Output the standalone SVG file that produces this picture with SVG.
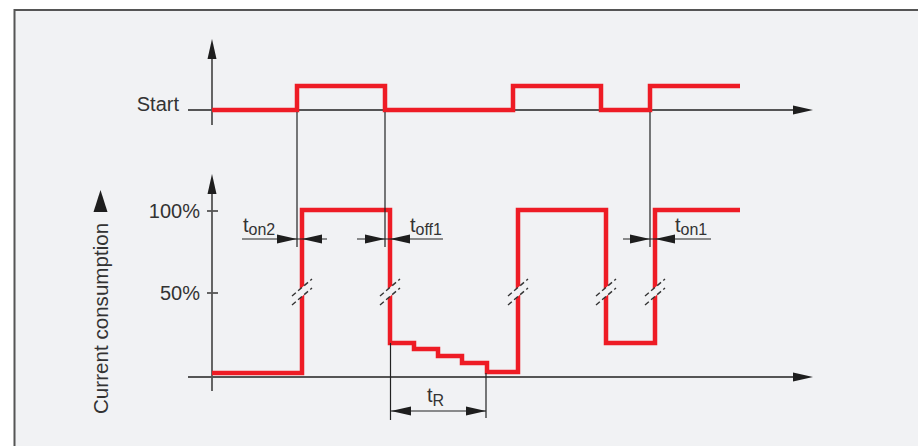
<svg xmlns="http://www.w3.org/2000/svg" xmlns:xlink="http://www.w3.org/1999/xlink" width="918" height="446" viewBox="0 0 918 446">
<style>
text{font-family:"Liberation Sans",Arial,sans-serif;fill:#333}
.ax{stroke:#555;stroke-width:1.8;fill:none}
.ref{stroke:#222;stroke-width:1.2;fill:none}
.sig{stroke:#ee1c25;stroke-width:4.5;fill:none;stroke-linejoin:miter;stroke-linecap:butt}
.ah{fill:#1e1e1e}
.brk{stroke:#333;stroke-width:1.4;stroke-dasharray:5 3}
.gap{fill:#f1f2f4}
.big{font-size:20px}
.t{font-size:20px}
.sub{font-size:16px}
</style>
<defs>
<path id="ahR" d="M0,0 L-20,-4.5 L-20,4.5 Z"/>
<path id="ahL" d="M0,0 L20,-4.5 L20,4.5 Z"/>
<path id="ahU" d="M0,0 L-4.5,20 L4.5,20 Z"/>
<g id="brkmark">
<polygon class="gap" points="-4.5,-0.4 4.5,-8.4 4.5,0.4 -4.5,8.4"/>
<line class="brk" x1="-10" y1="4" x2="10" y2="-13"/>
<line class="brk" x1="-10" y1="13" x2="10" y2="-4"/>
</g>
</defs>
<rect x="0" y="0" width="918" height="446" fill="#ffffff"/>
<rect id="frame" x="14.5" y="10" width="912" height="450" fill="#f1f2f4" stroke="#555" stroke-width="2"/>

<g id="axes">
<line class="ax" x1="212" y1="125" x2="212" y2="55"/>
<line class="ax" x1="188" y1="110" x2="797" y2="110"/>
<use href="#ahU" class="ah" x="212" y="39"/>
<use href="#ahR" class="ah" x="813" y="110"/>
<line class="ax" x1="212" y1="391" x2="212" y2="190"/>
<line class="ax" x1="188" y1="377" x2="797" y2="377"/>
<use href="#ahU" class="ah" x="212" y="174"/>
<use href="#ahR" class="ah" x="813" y="377"/>
<line class="ax" x1="207" y1="211" x2="218" y2="211"/>
<line class="ax" x1="207" y1="293" x2="218" y2="293"/>
</g>

<g id="labels">
<text class="big" x="179" y="111" text-anchor="end">Start</text>
<text class="big" x="200" y="218" text-anchor="end">100%</text>
<text class="big" x="200" y="300" text-anchor="end">50%</text>
<text class="big" transform="translate(108,414) rotate(-90)" style="font-size:20.6px">Current consumption</text>
<polygon class="ah" points="100.5,190 93.5,212 107.5,212"/>
</g>

<g id="signal-start">
<path class="sig" d="M212,110 H297 V86 H385 V110 H513 V86 H601 V110 H650 V86 H740"/>
</g>

<g id="signal-current">
<path class="sig" d="M212,373 H302 V210 H390 V343 H414 V349 H438 V356 H462 V363 H487 V372 H518 V210 H606 V343 H655 V210 H740"/>
</g>

<g id="breaks">
<use href="#brkmark" x="302" y="292"/>
<use href="#brkmark" x="390" y="292"/>
<use href="#brkmark" x="518" y="292"/>
<use href="#brkmark" x="606" y="292"/>
<use href="#brkmark" x="655" y="292"/>
</g>

<g id="connectors">
<line class="ref" x1="297" y1="112" x2="297" y2="247"/>
<line class="ref" x1="385" y1="112" x2="385" y2="247"/>
<line class="ref" x1="650" y1="112" x2="650" y2="247"/>
<line class="ref" x1="390.5" y1="343" x2="390.5" y2="420"/>
<line class="ref" x1="486" y1="373" x2="486" y2="418"/>
</g>

<g id="dim-ton2">
<line class="ref" x1="242" y1="239" x2="327" y2="239"/>
<use href="#ahR" class="ah" x="297" y="239"/>
<use href="#ahL" class="ah" x="302" y="239"/>
<text class="t" x="243" y="232">t<tspan class="sub" dy="3">on2</tspan></text>
</g>

<g id="dim-toff1">
<line class="ref" x1="357" y1="239" x2="443" y2="239"/>
<use href="#ahR" class="ah" x="385" y="239"/>
<use href="#ahL" class="ah" x="390" y="239"/>
<text class="t" x="410" y="232">t<tspan class="sub" dy="3">off1</tspan></text>
</g>

<g id="dim-ton1">
<line class="ref" x1="623" y1="239" x2="711" y2="239"/>
<use href="#ahR" class="ah" x="650" y="239"/>
<use href="#ahL" class="ah" x="655" y="239"/>
<text class="t" x="675" y="232">t<tspan class="sub" dy="3">on1</tspan></text>
</g>

<g id="dim-tR">
<line class="ref" x1="391" y1="411" x2="486" y2="411"/>
<use href="#ahL" class="ah" x="391" y="411"/>
<use href="#ahR" class="ah" x="486" y="411"/>
<text class="t" x="427" y="402">t<tspan class="sub" dy="4">R</tspan></text>
</g>
</svg>
